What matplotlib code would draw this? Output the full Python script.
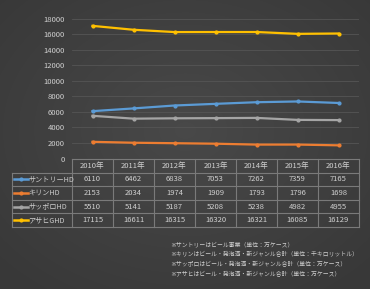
import numpy as np
import matplotlib.pyplot as plt

plt.rcParams['font.family'] = ['Noto Sans CJK JP', 'DejaVu Sans']

years = ['2010年', '2011年', '2012年', '2013年', '2014年', '2015年', '2016年']
names = ['サントリーHD', 'キリンHD', 'サッポロHD', 'アサヒGHD']
suntory = [6110, 6462, 6838, 7053, 7262, 7359, 7165]
kirin = [2153, 2034, 1974, 1909, 1793, 1796, 1698]
sapporo = [5510, 5141, 5187, 5208, 5238, 4982, 4955]
asahi = [17115, 16611, 16315, 16320, 16321, 16085, 16129]
notes = ['※サントリーはビール事業（単位：万ケース）',
         '※キリンはビール・発泡酒・新ジャンル合計（単位：千キロリットル）',
         '※サッポロはビール・発泡酒・新ジャンル合計（単位：万ケース）',
         '※アサヒはビール・発泡酒・新ジャンル合計（単位：万ケース）']

series = [suntory, kirin, sapporo, asahi]
colors = ['#5b9bd5', '#ed7d31', '#a5a5a5', '#ffc000']
txt = '#d0d0d0'
edge = '#7a7a7a'
W, H = 370, 289

fig = plt.figure(figsize=(3.7, 2.89), dpi=100)

def fx(px):
    return px / W

def fy(py):
    return 1 - py / H

# radial dark background
bg = fig.add_axes([0, 0, 1, 1])
yy, xx = np.mgrid[0:H, 0:W]
r = np.sqrt(((xx - W / 2) / (W / 2)) ** 2 + ((yy - H * 0.45) / (H / 2)) ** 2)
shade = 0.285 - 0.065 * np.clip(r / 1.4, 0, 1)
bg.imshow(np.dstack([shade] * 3), aspect='auto', extent=[0, 1, 0, 1])
bg.axis('off')
bg.set_zorder(0)

# plot area in pixels
left, right, top, bottom = 72, 359, 19, 158.5
ax = fig.add_axes([fx(left), fy(bottom), (right - left) / W, (bottom - top) / H])
ax.set_zorder(1)
ax.set_facecolor('none')

x = np.arange(len(years))
for vals, c in zip(series, colors):
    ax.plot(x, vals, color=c, lw=1.6, marker='o', ms=2, zorder=3)

ax.set_xlim(-0.5, len(years) - 0.5)
ax.set_ylim(0, 18000)
ax.set_yticks(np.arange(0, 18001, 2000))
ax.set_xticks([])
ax.tick_params(axis='y', length=0, labelsize=5.5, labelcolor=txt, pad=5)
ax.grid(axis='y', color='#555555', lw=0.6)
for s in ax.spines.values():
    s.set_visible(False)

# data table under the plot
tab_left, tab_top, row_h = 12, 159, 13.6
col_w = (right - left) / len(years)
n_rows = len(series) + 1
tab_bottom = tab_top + row_h * n_rows

def hline(py, x0, x1):
    fig.add_artist(plt.Line2D([fx(x0), fx(x1)], [fy(py), fy(py)], color=edge, lw=0.8))

def vline(px, y0, y1):
    fig.add_artist(plt.Line2D([fx(px), fx(px)], [fy(y0), fy(y1)], color=edge, lw=0.8))

hline(tab_top, left, right)
for k in range(1, n_rows + 1):
    hline(tab_top + row_h * k, tab_left, right)
vline(tab_left, tab_top + row_h, tab_bottom)
for j in range(len(years) + 1):
    vline(left + col_w * j, tab_top, tab_bottom)

for j, yr in enumerate(years):
    fig.text(fx(left + col_w * (j + 0.5)), fy(tab_top + row_h * 0.5), yr,
             color=txt, fontsize=5.5, ha='center', va='center')
for i, vals in enumerate(series):
    yc = fy(tab_top + row_h * (i + 1.5))
    for j, v in enumerate(vals):
        fig.text(fx(left + col_w * (j + 0.5)), yc, str(v),
                 color=txt, fontsize=5.5, ha='center', va='center')

# row labels with legend keys
for i, (name, c) in enumerate(zip(names, colors)):
    yc = fy(tab_top + row_h * (i + 1.5))
    fig.add_artist(plt.Line2D([fx(14), fx(21), fx(28)], [yc, yc, yc], color=c, lw=1.8,
                              marker='o', ms=2, markevery=[1]))
    fig.text(fx(28.5), yc, name, color=txt, fontsize=5.1, va='center', ha='left')

# notes
for k, note in enumerate(notes):
    fig.text(fx(170), fy(244 + k * 9.7), note, color=txt, fontsize=4.2,
             va='center', ha='left')

fig.savefig('out.png', dpi=100)
